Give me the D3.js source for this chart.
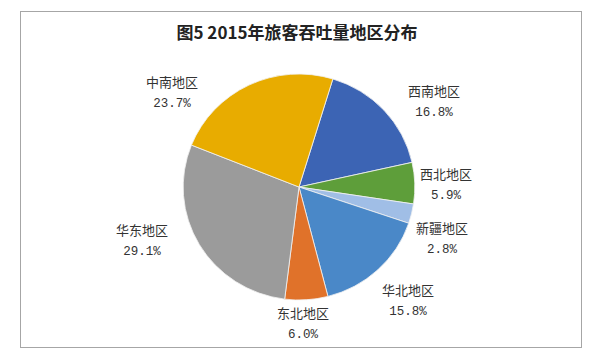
<!DOCTYPE html>
<html><head><meta charset="utf-8">
<script src="https://cdn.jsdelivr.net/npm/d3@7"></script>
<style>body{margin:0;background:#fff;}svg{display:block;}</style>
</head><body>
<script>
const categories = ["西南地区","西北地区","新疆地区","华北地区","东北地区","华东地区","中南地区"];
const values = [16.8, 5.9, 2.8, 15.8, 6.0, 29.1, 23.7];
const valueLabels = ["16.8%","5.9%","2.8%","15.8%","6.0%","29.1%","23.7%"];
const colors = ["#3C64B4","#5E9E3A","#A0BEE6","#4A88C8","#E0722A","#9B9B9B","#E8AC00"];
const title = "图5 2015年旅客吞吐量地区分布";
const labelPos = [[135,-85],[147,-2],[143,52],[109,114],[4,137],[-157,54],[-127,-94]];

const W=600,H=364;
const svg=d3.select("body").append("svg").attr("width",W).attr("height",H);
svg.append("rect").attr("x",20.5).attr("y",11.5).attr("width",561).attr("height",336)
  .attr("fill","#fff").attr("stroke","#a6a6a6").attr("stroke-width",1);
svg.append("text").attr("x",297).attr("y",39).attr("text-anchor","middle")
  .attr("font-family","'Noto Sans CJK SC'").attr("font-weight","bold").attr("font-size",17)
  .attr("fill","#222").text(title);

const cx=299, cy=187, r=113;
const startA = 17*Math.PI/180;
const pie=d3.pie().sort(null).value(d=>d).startAngle(startA).endAngle(startA+2*Math.PI);
const arcs=pie(values);
const arc=d3.arc().innerRadius(0).outerRadius(r);
const g=svg.append("g").attr("transform",`translate(${cx},${cy}) scale(1.025,1)`);
g.selectAll("path").data(arcs).join("path").attr("d",arc)
  .attr("fill",(d,i)=>colors[i]).attr("stroke","#f2f2f2").attr("stroke-width",0.8);

const lg=svg.append("g").attr("transform",`translate(${cx},186)`);
const lab=lg.selectAll("g.l").data(arcs).join("g").attr("class","l")
  .attr("transform",(d,i)=>`translate(${labelPos[i][0]},${labelPos[i][1]})`);
lab.append("text").attr("text-anchor","middle").attr("y",-5)
  .attr("font-family","'Noto Sans CJK SC'").attr("font-size",13).attr("fill","#333")
  .text((d,i)=>categories[i]);
lab.append("text").attr("text-anchor","middle").attr("y",15)
  .attr("font-family","'Liberation Mono','DejaVu Sans Mono',monospace").attr("font-size",12.5).attr("fill","#333")
  .text((d,i)=>valueLabels[i]);
</script>
</body></html>
